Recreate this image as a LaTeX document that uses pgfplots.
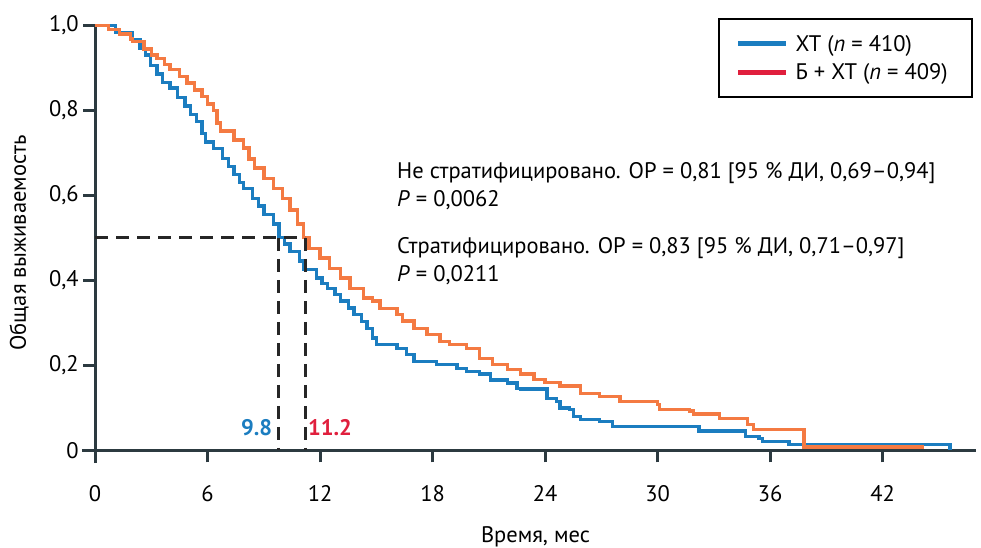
\documentclass[border=0pt]{standalone}
\usepackage{fontspec}
\setmainfont{PT Sans}
\usepackage{pgfplots}
\pgfplotsset{compat=1.18}
\definecolor{ctblue}{HTML}{1B7DC0}
\definecolor{bctorange}{HTML}{F47A42}
\definecolor{legred}{HTML}{E01F3D}
\definecolor{axisgray}{HTML}{2C3A40}
\definecolor{dashgray}{HTML}{262626}
\newcommand{\fs}{\fontsize{22.5}{27}\selectfont}

% Kaplan-Meier steps (months, survival)
\begin{document}
\begin{tikzpicture}
\path[use as bounding box] (-82pt,-84pt) rectangle (899pt,463pt);
\begin{axis}[
  at={(0pt,0pt)}, anchor=south west,
  scale only axis, width=894.4pt, height=437.75pt,
  xmin=-0.7, xmax=47, ymin=-0.03, ymax=1,
  clip=false,
  axis lines=middle,
  axis line style={-, draw=axisgray, line width=3.2pt},
  every inner x axis line/.append style={-},
  every inner y axis line/.append style={-},
  hide obscured x ticks=false, hide obscured y ticks=false,
  tick align=outside, major tick length=12pt,
  tick style={draw=axisgray, line width=3pt},
  xtick={0,6,12,18,24,30,36,42},
  xticklabels={0,6,12,18,24,30,36,42},
  ytick={0,0.2,0.4,0.6,0.8,1},
  yticklabels={0,{0,2},{0,4},{0,6},{0,8},{1,0}},
  tick label style={font=\fs},
  xticklabel style={anchor=north, yshift=-20pt},
  yticklabel style={anchor=east, xshift=-1pt},
  xlabel={Время, мес}, ylabel={Общая выживаемость},
  label style={font=\fs},
  xlabel style={at={(axis description cs:0.507,-0.169)}, anchor=center},
  ylabel style={at={(axis description cs:-0.0704,0.5026)}, rotate=90, anchor=center},
  legend style={at={(rel axis cs:0.7106,1.0166)}, anchor=north west,
    draw=black, line width=2pt, font=\fs, inner xsep=17pt, inner ysep=14pt,
    row sep=7pt, nodes={inner xsep=7pt}},
  legend cell align=left,
  legend image code/.code={\draw[#1] (0pt,0pt) -- (48pt,0pt);},
]
\addlegendimage{ctblue, line width=5pt}
\addlegendentry{ХТ (\textit{n} = 410)}
\addlegendimage{legred, line width=5pt}
\addlegendentry{Б + ХТ (\textit{n} = 409)}

\addplot[const plot mark left, color=ctblue, line width=3.4pt, forget plot] coordinates {
(0,1.0) (1.1,0.983) (2.0,0.965) (2.4,0.946) (2.7,0.93) (2.95,0.905) (3.3,0.885)
(3.6,0.865) (4.0,0.852) (4.4,0.83) (4.8,0.81) (5.1,0.79) (5.4,0.774) (5.7,0.745)
(5.9,0.725) (6.3,0.71) (6.8,0.687) (7.1,0.668) (7.4,0.649) (7.7,0.63) (7.9,0.616)
(8.4,0.593) (8.7,0.575) (9.0,0.555) (9.5,0.532) (9.8,0.5) (10.1,0.485) (10.4,0.468)
(10.9,0.445) (11.1,0.426) (11.8,0.405) (12.1,0.393) (12.4,0.381) (12.8,0.366)
(13.1,0.351) (13.5,0.335) (13.8,0.32) (14.2,0.303) (14.5,0.287) (14.8,0.264)
(15.0,0.249) (16.1,0.24) (16.6,0.226) (17.0,0.209) (18.2,0.202) (19.3,0.193)
(19.8,0.186) (20.5,0.179) (21.1,0.165) (22.0,0.158) (22.5,0.146) (22.7,0.144)
(24.1,0.122) (24.6,0.115) (24.8,0.099) (25.3,0.096) (25.5,0.08) (25.9,0.073)
(26.9,0.068) (27.6,0.056) (32.2,0.045) (34.7,0.033) (35.4,0.028) (35.6,0.021)
(37.0,0.014) (45.6,0.0)
};
\addplot[const plot mark left, color=bctorange, line width=3.4pt, forget plot] coordinates {
(0,1.0) (0.7,0.99) (1.3,0.979) (1.9,0.968) (2.0,0.962) (2.6,0.944) (3.0,0.93)
(3.3,0.922) (3.7,0.908) (4.0,0.896) (4.5,0.88) (4.9,0.864) (5.3,0.848) (5.7,0.833)
(6.0,0.815) (6.3,0.8) (6.5,0.77) (6.7,0.751) (7.4,0.73) (7.9,0.711) (8.2,0.685)
(8.5,0.664) (9.0,0.64) (9.5,0.616) (10.0,0.593) (10.4,0.565) (10.8,0.532)
(11.1,0.5) (11.4,0.475) (12.0,0.452) (12.5,0.428) (13.1,0.405) (13.6,0.381)
(14.3,0.358) (14.8,0.351) (15.2,0.334) (16.1,0.32) (16.4,0.304) (17.0,0.287)
(17.7,0.273) (18.4,0.256) (18.9,0.249) (19.8,0.24) (20.5,0.216) (21.2,0.202)
(22.0,0.19) (22.7,0.179) (23.4,0.167) (24.0,0.16) (24.8,0.151) (25.9,0.134)
(26.9,0.127) (28.0,0.115) (30.0,0.108) (30.1,0.096) (31.7,0.092) (31.9,0.085)
(33.3,0.075) (34.8,0.061) (35.1,0.049) (37.8,0.008) (44.2,0.008)
};

% medians
\addplot[dashgray, line width=3pt, dash pattern=on 13pt off 8pt, forget plot]
  coordinates {(0,0.5) (11.2,0.5)};
\addplot[dashgray, line width=3pt, dash pattern=on 13pt off 8pt, forget plot]
  coordinates {(9.8,0.5) (9.8,0)};
\addplot[dashgray, line width=3pt, dash pattern=on 13pt off 8pt, forget plot]
  coordinates {(11.2,0.5) (11.2,0)};

\node[anchor=base east, font=\fs\bfseries, text=ctblue, inner sep=0pt] at (axis cs:9.45,0.035) {9.8};
\node[anchor=base west, font=\fs\bfseries, text=legred, inner sep=0pt] at (axis cs:11.35,0.035) {11.2};

\node[anchor=base west, font=\fs, inner sep=0pt] at (axis cs:16.1,0.640) {Не стратифицировано. ОР = 0,81 [95 \% ДИ, 0,69–0,94]};
\node[anchor=base west, font=\fs, inner sep=0pt] at (axis cs:16.1,0.574) {\textit{P} = 0,0062};
\node[anchor=base west, font=\fs, inner sep=0pt] at (axis cs:16.1,0.463) {Стратифицировано. ОР = 0,83 [95 \% ДИ, 0,71–0,97]};
\node[anchor=base west, font=\fs, inner sep=0pt] at (axis cs:16.1,0.397) {\textit{P} = 0,0211};
\end{axis}
\end{tikzpicture}
\end{document}
